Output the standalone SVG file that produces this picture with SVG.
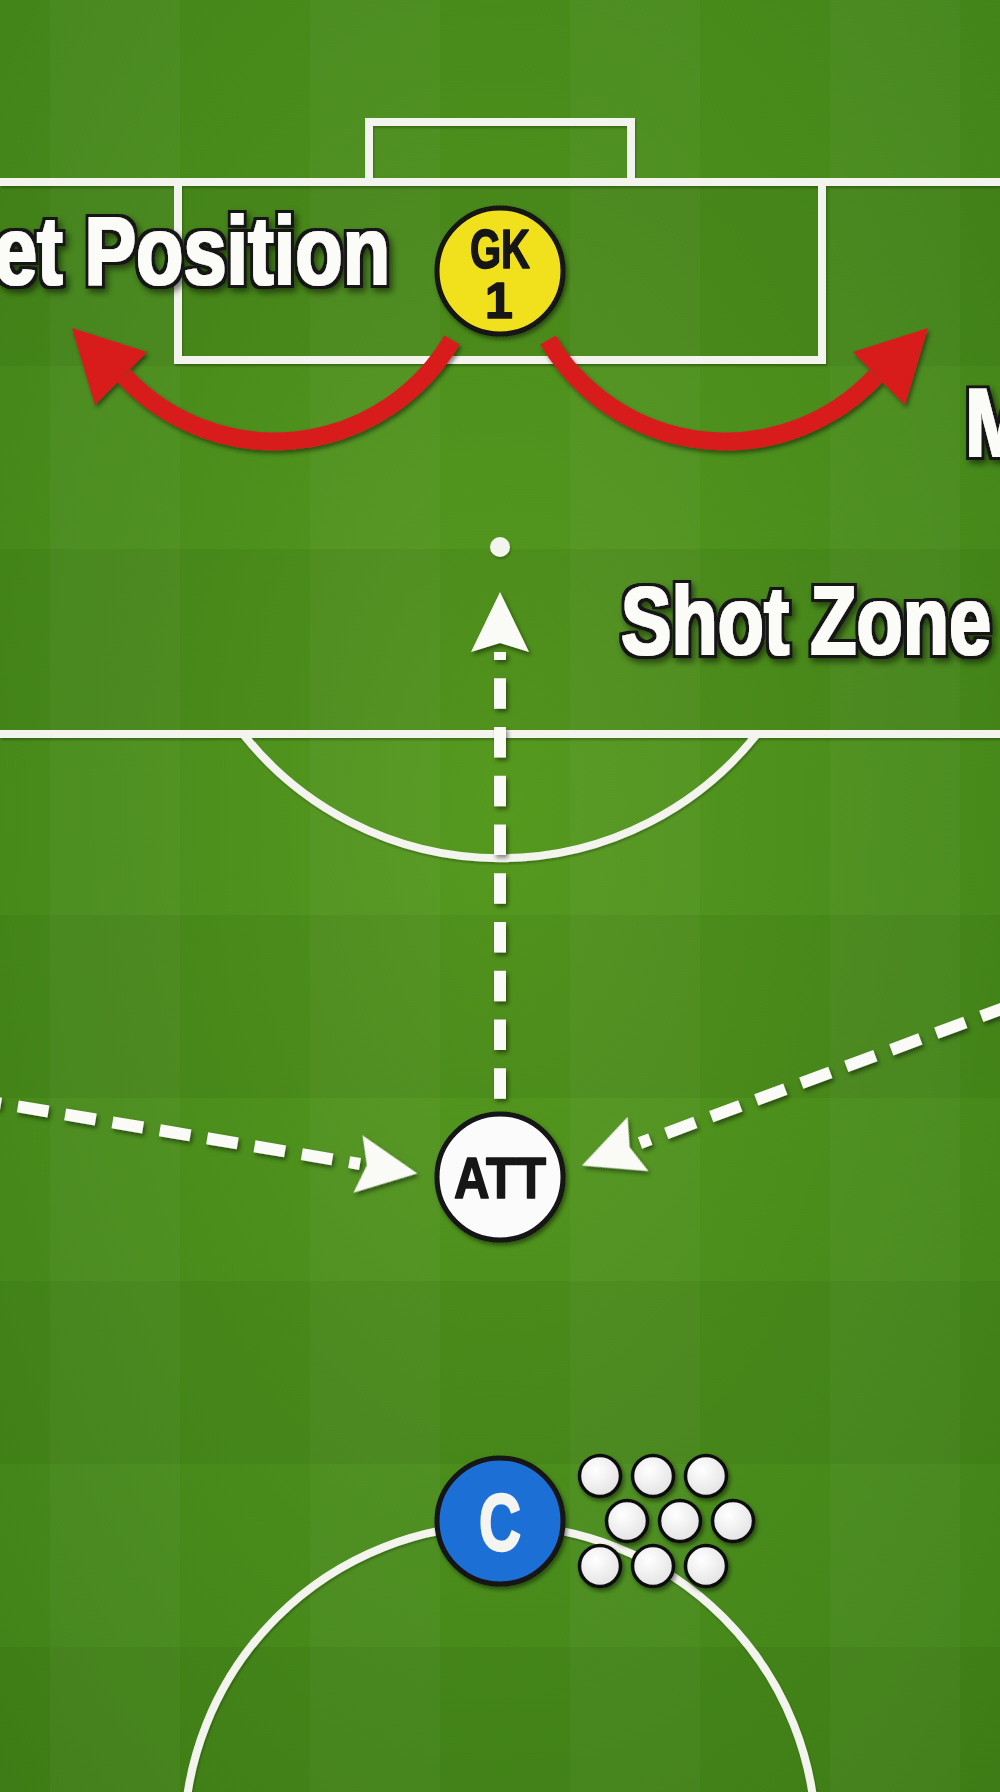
<svg xmlns="http://www.w3.org/2000/svg" xmlns:xlink="http://www.w3.org/1999/xlink" width="1000" height="1792" viewBox="0 0 1000 1792">
<defs>
<style>
.pl{fill:none;stroke:#f3f4ee;stroke-width:8}
.lbl{font-family:"Liberation Sans",Arial,sans-serif;font-weight:bold;font-size:97px;fill:#fbfbf8}
.nd{stroke:#121212;stroke-width:5}
.nt{font-family:"Liberation Sans",Arial,sans-serif;font-weight:bold;fill:#141414;stroke:#141414;stroke-width:1.6;stroke-linejoin:round;text-anchor:middle}
.dash{fill:none;stroke:#fafaf6;stroke-width:12;stroke-linecap:butt}
.red{fill:none;stroke:#d81d1d;stroke-width:18;stroke-linecap:butt}
.ball{fill:url(#bg);stroke:#111;stroke-width:3.5}
</style>
<filter id="sh" x="-20%" y="-20%" width="140%" height="140%"><feDropShadow dx="2" dy="3" stdDeviation="2" flood-color="#000" flood-opacity="0.45"/></filter>
<filter id="lsh" x="-5%" y="-5%" width="110%" height="110%"><feDropShadow dx="1" dy="2" stdDeviation="1.2" flood-color="#000" flood-opacity="0.25"/></filter>
<filter id="bold" x="-10%" y="-25%" width="120%" height="160%">
<feMorphology in="SourceAlpha" operator="dilate" radius="0.7" result="fat"/>
<feFlood flood-color="#fbfbf8" result="w"/>
<feComposite in="w" in2="fat" operator="in" result="white"/>
<feMorphology in="SourceAlpha" operator="dilate" radius="3.8" result="fat2"/>
<feFlood flood-color="#141414" result="k"/>
<feComposite in="k" in2="fat2" operator="in" result="black"/>
<feGaussianBlur in="fat2" stdDeviation="3" result="b"/>
<feOffset in="b" dx="3" dy="4" result="ob"/>
<feFlood flood-color="#000" flood-opacity="0.5" result="sc"/>
<feComposite in="sc" in2="ob" operator="in" result="shadow"/>
<feMerge><feMergeNode in="shadow"/><feMergeNode in="black"/><feMergeNode in="white"/></feMerge>
</filter>
<radialGradient id="grass" cx="50%" cy="45%" r="75%"><stop offset="0" stop-color="#56991f"/><stop offset="1" stop-color="#408218"/></radialGradient>
<radialGradient id="bg" cx="40%" cy="35%" r="70%"><stop offset="0" stop-color="#ffffff"/><stop offset="1" stop-color="#e2e2e2"/></radialGradient>
<path id="wh" d="M60,0 L0,-29 L9,0 L0,29 Z"/>
</defs>

<g id="pitch">
<rect x="0" y="0" width="1000" height="1792" fill="url(#grass)"/>
<g fill="#000" opacity="0.045">
<rect x="0" y="183" width="1000" height="183"/>
<rect x="0" y="549" width="1000" height="183"/>
<rect x="0" y="915" width="1000" height="183"/>
<rect x="0" y="1281" width="1000" height="183"/>
<rect x="0" y="1647" width="1000" height="183"/>
</g>
<g fill="#fff" opacity="0.03">
<rect x="50" y="0" width="130" height="1792"/>
<rect x="310" y="0" width="130" height="1792"/>
<rect x="570" y="0" width="130" height="1792"/>
<rect x="830" y="0" width="130" height="1792"/>
</g>
<g filter="url(#lsh)">
<path class="pl" d="M369,182 V122 H631 V182"/>
<line class="pl" x1="0" y1="182" x2="1000" y2="182"/>
<path class="pl" d="M178,182 V360 H822 V182"/>
<line class="pl" x1="0" y1="734" x2="1000" y2="734"/>
<path class="pl" d="M243,734 A328,328 0 0 0 757,734"/>
<circle class="pl" cx="500" cy="1841" r="316"/>
<circle cx="500" cy="547" r="10" fill="#f3f4ee"/>
</g>
</g>

<g id="labels" filter="url(#bold)">
<text class="lbl" x="-6" y="284" textLength="396" lengthAdjust="spacingAndGlyphs">et Position</text>
<text class="lbl" x="621" y="654" textLength="370" lengthAdjust="spacingAndGlyphs">Shot Zone</text>
<text class="lbl" x="965" y="456" textLength="65" lengthAdjust="spacingAndGlyphs">M</text>
</g>

<g id="connectors" filter="url(#sh)">
<g id="red-left">
<path class="red" d="M452,340 A206,206 0 0 1 124,376"/>
<polygon points="72,328 147,352 95,405" fill="#d81d1d"/>
</g>
<g id="red-right">
<path class="red" d="M548,340 A206,206 0 0 0 876,376"/>
<polygon points="928,328 853,352 905,405" fill="#d81d1d"/>
</g>
<g id="run-up" fill="#fafaf6">
<path class="dash" d="M500,652 V1099" stroke-dasharray="30.5 18.25" stroke-dashoffset="22.5"/>
<use xlink:href="#wh" href="#wh" transform="translate(500,652) rotate(-90)"/>
</g>
<g id="run-left" fill="#fafaf6">
<path class="dash" d="M360,1164 L-20,1100" stroke-dasharray="31 17" stroke-dashoffset="20"/>
<use xlink:href="#wh" href="#wh" transform="translate(358,1164) rotate(9)"/>
</g>
<g id="run-right" fill="#fafaf6">
<path class="dash" d="M640,1143 L1020,1002" stroke-dasharray="31 17" stroke-dashoffset="20"/>
<use xlink:href="#wh" href="#wh" transform="translate(638,1144) rotate(159)"/>
</g>
</g>

<g id="node-gk" filter="url(#sh)">
<circle class="nd" cx="500" cy="271" r="63" fill="#f1e01f"/>
<text class="nt"><tspan x="500" y="268" font-size="56" textLength="60" lengthAdjust="spacingAndGlyphs">GK</tspan><tspan x="499" y="318" font-size="50">1</tspan></text>
</g>

<g id="node-att" filter="url(#sh)">
<circle class="nd" cx="500" cy="1177" r="63" fill="#fbfbfb"/>
<text class="nt" x="500" y="1198" font-size="58" textLength="92" lengthAdjust="spacingAndGlyphs">ATT</text>
</g>

<g id="node-c" filter="url(#sh)">
<circle class="nd" cx="500" cy="1521" r="63" fill="#1f6fd5"/>
<text class="nt" x="500" y="1550" font-size="79" style="fill:#f4f4f0;stroke:#f4f4f0;stroke-width:2.5" textLength="42" lengthAdjust="spacingAndGlyphs">C</text>
</g>

<g id="balls" filter="url(#sh)">
<circle class="ball" cx="600" cy="1476" r="20.5"/>
<circle class="ball" cx="653" cy="1476" r="20.5"/>
<circle class="ball" cx="706" cy="1476" r="20.5"/>
<circle class="ball" cx="627" cy="1521" r="20.5"/>
<circle class="ball" cx="680" cy="1521" r="20.5"/>
<circle class="ball" cx="733" cy="1521" r="20.5"/>
<circle class="ball" cx="600" cy="1566" r="20.5"/>
<circle class="ball" cx="653" cy="1566" r="20.5"/>
<circle class="ball" cx="706" cy="1566" r="20.5"/>
</g>
</svg>
